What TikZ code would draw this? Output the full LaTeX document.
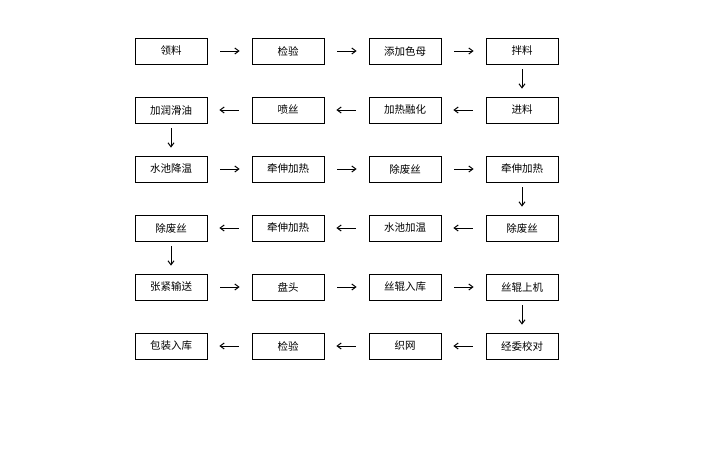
\documentclass[tikz,border=0pt]{standalone}
\usepackage{fontspec}
\newfontfamily\cjk{Noto Sans CJK SC}
\usetikzlibrary{arrows.meta}
\begin{document}
\begin{tikzpicture}[x=1pt,y=-1pt,
  box/.style={draw,line width=0.8pt,minimum width=72pt,minimum height=26pt,inner sep=0pt,font=\cjk\fontsize{10.5}{12}\selectfont},
  arr/.style={line width=1pt,-{Straight Barb[length=4pt,width=6pt]}}]
\useasboundingbox (0,0) rectangle (720,450);
\def\xa{171}\def\xb{288}\def\xc{405}\def\xd{522}
\node[box] (a1) at (\xa,51) {领料};
\node[box] (a2) at (\xb,51) {检验};
\node[box] (a3) at (\xc,51) {添加色母};
\node[box] (a4) at (\xd,51) {拌料};
\node[box] (b1) at (\xa,110) {加润滑油};
\node[box] (b2) at (\xb,110) {喷丝};
\node[box] (b3) at (\xc,110) {加热融化};
\node[box] (b4) at (\xd,110) {进料};
\node[box] (c1) at (\xa,169) {水池降温};
\node[box] (c2) at (\xb,169) {牵伸加热};
\node[box] (c3) at (\xc,169) {除废丝};
\node[box] (c4) at (\xd,169) {牵伸加热};
\node[box] (d1) at (\xa,228) {除废丝};
\node[box] (d2) at (\xb,228) {牵伸加热};
\node[box] (d3) at (\xc,228) {水池加温};
\node[box] (d4) at (\xd,228) {除废丝};
\node[box] (e1) at (\xa,287) {张紧输送};
\node[box] (e2) at (\xb,287) {盘头};
\node[box] (e3) at (\xc,287) {丝辊入库};
\node[box] (e4) at (\xd,287) {丝辊上机};
\node[box] (f1) at (\xa,346) {包装入库};
\node[box] (f2) at (\xb,346) {检验};
\node[box] (f3) at (\xc,346) {织网};
\node[box] (f4) at (\xd,346) {经委校对};
\foreach \r/\d in {a/1,c/1,e/1}{
  \draw[arr] ([xshift=13pt]\r1.east) -- ([xshift=-12pt]\r2.west);
  \draw[arr] ([xshift=13pt]\r2.east) -- ([xshift=-12pt]\r3.west);
  \draw[arr] ([xshift=13pt]\r3.east) -- ([xshift=-12pt]\r4.west);}
\foreach \r in {b,d,f}{
  \draw[arr] ([xshift=-13pt]\r2.west) -- ([xshift=12pt]\r1.east);
  \draw[arr] ([xshift=-13pt]\r3.west) -- ([xshift=12pt]\r2.east);
  \draw[arr] ([xshift=-13pt]\r4.west) -- ([xshift=12pt]\r3.east);}
\draw[arr] ([yshift=-5pt]a4.south) -- ([yshift=8pt]b4.north);
\draw[arr] ([yshift=-5pt]b1.south) -- ([yshift=8pt]c1.north);
\draw[arr] ([yshift=-5pt]c4.south) -- ([yshift=8pt]d4.north);
\draw[arr] ([yshift=-5pt]d1.south) -- ([yshift=8pt]e1.north);
\draw[arr] ([yshift=-5pt]e4.south) -- ([yshift=8pt]f4.north);
\end{tikzpicture}
\end{document}
